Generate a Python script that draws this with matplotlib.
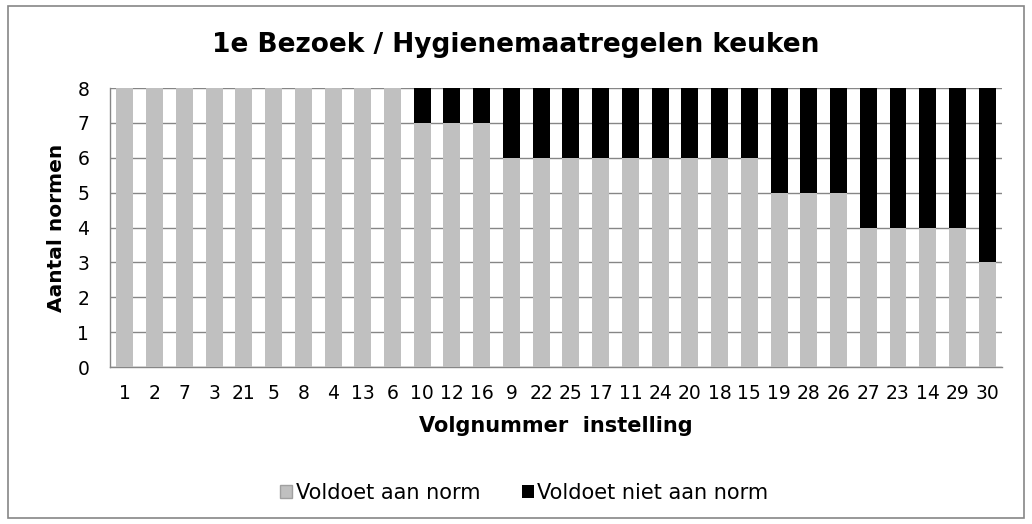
import matplotlib.pyplot as plt
from matplotlib.patches import Rectangle
import numpy as np

# ---------------- data ----------------
instellingen = ["1", "2", "7", "3", "21", "5", "8", "4", "13", "6",
                "10", "12", "16", "9", "22", "25", "17", "11", "24", "20",
                "18", "15", "19", "28", "26", "27", "23", "14", "29", "30"]
voldoet = [8, 8, 8, 8, 8, 8, 8, 8, 8, 8,
           7, 7, 7, 6, 6, 6, 6, 6, 6, 6,
           6, 6, 5, 5, 5, 4, 4, 4, 4, 3]
voldoet_niet = [0, 0, 0, 0, 0, 0, 0, 0, 0, 0,
                1, 1, 1, 2, 2, 2, 2, 2, 2, 2,
                2, 2, 3, 3, 3, 4, 4, 4, 4, 5]

# ---------------- figure ----------------
plt.rcParams['font.family'] = ['DejaVu Sans']

fig = plt.figure(figsize=(10.32, 5.24), dpi=100)
ax = fig.add_axes([0.1066, 0.2996, 0.8644, 0.5324])

x = np.arange(len(instellingen))
ax.bar(x, voldoet, width=0.57, color="#c0c0c0", zorder=3, label="Voldoet aan norm")
ax.bar(x, voldoet_niet, width=0.57, bottom=voldoet, color="black", zorder=3,
       label="Voldoet niet aan norm")

ax.set_xlim(-0.5, len(instellingen) - 0.5)
ax.set_ylim(0, 8)
ax.set_yticks(range(0, 9))
ax.set_xticks(x)
ax.set_xticklabels(instellingen)
ax.tick_params(axis="both", length=0, labelsize=13.5)
ax.tick_params(axis="x", pad=12)
ax.tick_params(axis="y", pad=15)

ax.grid(axis="y", color="#868686", linewidth=1, zorder=0)
for s in ["top", "right"]:
    ax.spines[s].set_visible(False)
for s in ["left", "bottom"]:
    ax.spines[s].set_color("#868686")
    ax.spines[s].set_linewidth(1)

fig.text(0.5, 1 - 45 / 524, "1e Bezoek / Hygienemaatregelen keuken",
         fontsize=19, fontweight="bold", ha="center", va="center")
ax.set_ylabel("Aantal normen", fontsize=14.5, fontweight="bold")
ax.yaxis.set_label_coords(-0.049, 0.5)
ax.set_xlabel("Volgnummer  instelling", fontsize=15, fontweight="bold")
ax.xaxis.set_label_coords(0.5, -0.175)

leg = fig.legend(loc="center", bbox_to_anchor=(0.508, 1 - 493 / 524), ncol=2,
                 frameon=False, fontsize=15, handlelength=0.6, handleheight=0.6,
                 handletextpad=0.15, columnspacing=2.0)
leg.legend_handles[0].set_edgecolor("#a0a0a0")

# outer chart border
fig.patches.append(Rectangle((8 / 1032, 6 / 524), 1016 / 1032, 512 / 524,
                             transform=fig.transFigure, fill=False,
                             edgecolor="#868686", linewidth=1.2))

fig.savefig("out.png", dpi=100)
